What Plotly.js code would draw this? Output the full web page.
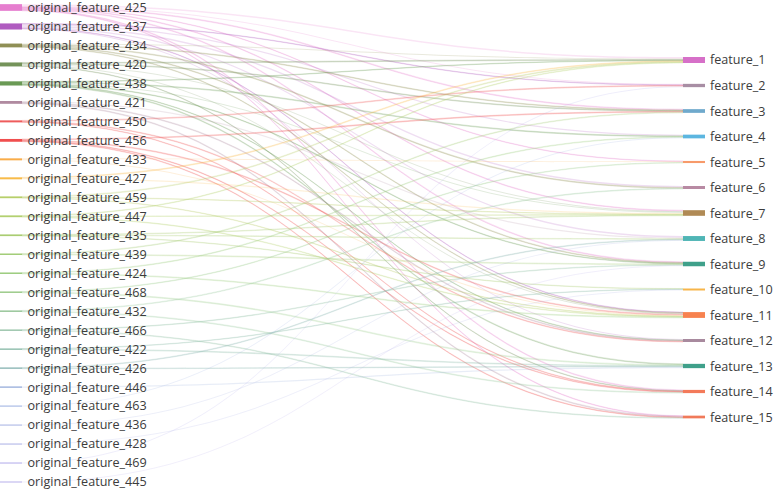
<!DOCTYPE html>
<html>
<head>
<meta charset="utf-8">
<script src="https://cdn.plot.ly/plotly-3.0.1.min.js"></script>
<style>html,body{margin:0;padding:0;background:#fff;}#chart{width:777px;height:491px;}</style>
</head>
<body>
<div id="chart"></div>
<script>
// ---- data ----
const leftLabels = ['original_feature_425','original_feature_437','original_feature_434','original_feature_420','original_feature_438','original_feature_421','original_feature_450','original_feature_456','original_feature_433','original_feature_427','original_feature_459','original_feature_447','original_feature_435','original_feature_439','original_feature_424','original_feature_468','original_feature_432','original_feature_466','original_feature_422','original_feature_426','original_feature_446','original_feature_463','original_feature_436','original_feature_428','original_feature_469','original_feature_445'];
const rightLabels = ['feature_1','feature_2','feature_3','feature_4','feature_5','feature_6','feature_7','feature_8','feature_9','feature_10','feature_11','feature_12','feature_13','feature_14','feature_15'];

const leftColors = ['#e67ecf','#b05cc0','#8f8f55','#74935a','#6a9a55','#b08aa0','#ee5c5c','#f04e4e','#f9ad4a','#f8bb48','#b7cf6a','#b3d070','#aacd72','#a3cd78','#9ccc7e','#9ccb8a','#98c69a','#8ebda0','#85b8a5','#85b2b0','#8ea6d8','#9aaee0','#a4b0e2','#aab0e6','#b0aaea','#b8b0ec'];
const rightColors = ['#d670c8','#a88ea4','#6fa9cc','#5cb6e0','#f79a6a','#b88aa3','#b08a55','#4fb5b5','#3fa08a','#f7b54a','#f7824f','#a88a9e','#3fa08a','#f37a5a','#f07a5a'];

const linkSource = [
 '425','425','425','425','425','425','425','425',
 '437','437','437','437','437','437',
 '434','434','434','434','434',
 '420','420','420','420','420',
 '438','438','438','438','438','438',
 '421','421','421',
 '450','450','450',
 '456','456','456','456',
 '433','433',
 '427','427',
 '459','459','459',
 '447','447','447',
 '435','435','435',
 '439','439',
 '424','424',
 '468','468',
 '432','432',
 '466','466',
 '422','422',
 '426','426',
 '446','463','436','428','469','445'];
const linkTarget = [
 1,2,3,5,7,9,14,15,
 2,4,6,8,11,12,
 1,3,6,9,11,
 1,3,7,11,14,
 1,4,7,9,12,13,
 8,12,15,
 2,12,14,
 3,11,14,15,
 5,11,
 1,7,
 1,7,11,
 1,7,11,
 7,8,10,
 3,9,
 4,11,
 5,13,
 6,14,
 9,15,
 10,13,
 8,13,
 13,4,8,10,2,9];
const linkValue = [
 1.5,1.0,0.8,0.5,0.7,0.8,0.8,0.6,
 0.5,1.2,1.5,1.4,0.5,1.0,
 1.0,0.7,0.8,0.7,0.6,
 0.8,0.7,1.0,1.0,0.5,
 0.5,0.8,1.0,0.6,0.5,0.8,
 1.2,0.8,0.8,
 0.8,0.7,0.5,
 0.8,0.8,0.6,0.6,
 1.0,1.0,
 0.8,1.2,
 0.8,0.5,0.5,
 0.6,0.6,0.6,
 0.6,0.6,0.5,
 0.7,0.8,
 0.7,0.8,
 0.6,0.9,
 0.7,0.8,
 0.6,0.7,
 0.5,0.8,
 0.7,0.6,
 1.2,1.0,1.0,1.0,1.0,1.0];

// ---- layout constants ----
const W = 777, H = 491, marginR = 72;
const plotW = W - marginR, plotH = H;
const thickness = 22;
const pxPerUnit = 1.0;           // node/link thickness scale
const labelFont = {family: 'Open Sans, sans-serif', size: 12.6, color: '#3c3c3c'};
const nL = leftLabels.length, nR = rightLabels.length;
const leftTop = 7.5, leftBottom = 482, rightTop = 60, rightBottom = 417;

function hexToRgba(hex, a) {
  const v = parseInt(hex.slice(1), 16);
  return 'rgba(' + ((v >> 16) & 255) + ',' + ((v >> 8) & 255) + ',' + (v & 255) + ',' + a + ')';
}

// ---- nodes ----
// Plotly caps node padding at 2/3 of the column height, which would make the
// bars far too thick; an invisible off-canvas spacer pair keeps the scale thin.
const labels = leftLabels.concat(rightLabels.map(() => ''), ['', '']);
const nodeColors = leftColors.concat(rightColors, ['rgba(0,0,0,0)', 'rgba(0,0,0,0)']);
const spacerL = nL + nR, spacerR = nL + nR + 1;

const nodeX = [], nodeY = [];
for (let i = 0; i < nL; i++) {
  nodeX.push((thickness / 2) / plotW);
  nodeY.push((leftTop + i * (leftBottom - leftTop) / (nL - 1)) / plotH);
}
for (let j = 0; j < nR; j++) {
  nodeX.push((plotW - thickness / 2) / plotW);
  nodeY.push((rightTop + j * (rightBottom - rightTop) / (nR - 1)) / plotH);
}
nodeX.push((thickness / 2) / plotW, (plotW - thickness / 2) / plotW);
nodeY.push(1.8, 1.8);

// ---- links ----
const srcIdx = linkSource.map(s => leftLabels.indexOf('original_feature_' + s));
const tgtIdx = linkTarget.map(t => nL + t - 1);
const linkColors = srcIdx.map(i => hexToRgba(leftColors[i], 0.2));

const total = linkValue.reduce((a, b) => a + b, 0);
const maxPad = (2 / 3) * plotH / nL;                 // column of nL+1 nodes
const spacerValue = (plotH - nL * maxPad) / pxPerUnit - total;

const trace = {
  type: 'sankey',
  arrangement: 'fixed',
  domain: {x: [0, 1], y: [0, 1]},
  textfont: Object.assign({shadow: 'none'}, labelFont),
  hoverinfo: 'none',
  node: {
    label: labels,
    color: nodeColors,
    x: nodeX,
    y: nodeY,
    pad: 40,
    thickness: thickness,
    line: {width: 5, color: 'rgba(0,0,0,0)'}   // invisible outline widens label gap
  },
  link: {
    source: srcIdx.concat([spacerL]),
    target: tgtIdx.concat([spacerR]),
    value: linkValue.concat([spacerValue]),
    color: linkColors.concat(['rgba(0,0,0,0)']),
    line: {width: 0}
  }
};

// right-hand labels sit to the right of the target bars
const annotations = rightLabels.map((t, j) => ({
  text: t,
  xref: 'paper', yref: 'paper',
  x: (plotW + 3) / plotW,
  y: 1 - nodeY[nL + j],
  xanchor: 'left', yanchor: 'middle',
  showarrow: false,
  font: labelFont
}));

Plotly.newPlot('chart', [trace], {
  width: W, height: H,
  margin: {l: 0, r: marginR, t: 0, b: 0},
  paper_bgcolor: '#fff',
  font: {family: 'Open Sans, sans-serif'},
  annotations: annotations
}, {displayModeBar: false, staticPlot: true});
</script>
</body>
</html>
